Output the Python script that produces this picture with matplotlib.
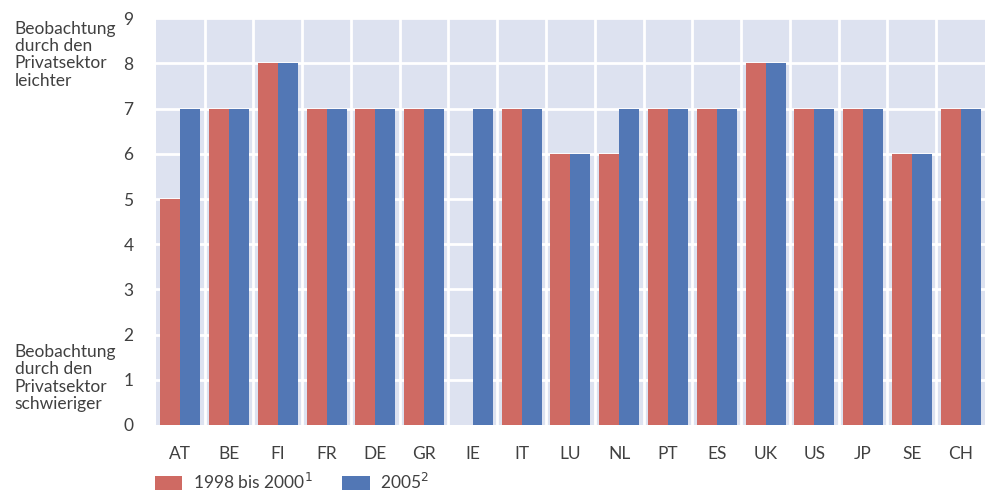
import numpy as np
import matplotlib.pyplot as plt

plt.rcParams['font.family'] = ['Lato', 'DejaVu Sans']

countries = ['AT', 'BE', 'FI', 'FR', 'DE', 'GR', 'IE', 'IT', 'LU', 'NL',
             'PT', 'ES', 'UK', 'US', 'JP', 'SE', 'CH']
v_1998_2000 = [5, 7, 8, 7, 7, 7, 0, 7, 6, 6, 7, 7, 8, 7, 7, 6, 7]
v_2005 = [7, 7, 8, 7, 7, 7, 7, 7, 6, 7, 7, 7, 8, 7, 7, 6, 7]
yticks = list(range(0, 10))

red = '#cf6a63'
blue = '#5277b5'
txt = '#404040'

fig = plt.figure(figsize=(9.86, 4.93), dpi=100)
ax = fig.add_axes([0.158, 0.138, 0.841, 0.825])
ax.set_facecolor('#dde2f0')

x = np.arange(len(countries))
w = 0.41
ax.bar(x - w / 2, v_1998_2000, w, color=red, zorder=3, label='1998 bis 2000$^1$')
ax.bar(x + w / 2, v_2005, w, color=blue, zorder=3, label='2005$^2$')

ax.set_xlim(-0.5, len(countries) - 0.5)
ax.set_ylim(0, 9)
for b in np.arange(0.5, len(countries) - 0.5):
    ax.axvline(b, color='white', lw=2, zorder=1)
for t in yticks[1:]:
    ax.axhline(t, color='white', lw=2, zorder=1)

ax.set_xticks(x)
ax.set_xticklabels(countries)
ax.set_yticks(yticks)
ax.tick_params(axis='x', length=0, pad=15, labelsize=12.5, labelcolor=txt)
ax.tick_params(axis='y', length=0, pad=16, labelsize=12.5, labelcolor=txt)
for s in ax.spines.values():
    s.set_visible(False)

fig.text(0.015, 0.958, 'Beobachtung\ndurch den\nPrivatsektor\nleichter', ha='left', va='top',
         fontsize=12.5, color=txt, linespacing=1.1)
fig.text(0.015, 0.302, 'Beobachtung\ndurch den\nPrivatsektor\nschwieriger', ha='left', va='top',
         fontsize=12.5, color=txt, linespacing=1.1)

fig.legend(loc='center left', bbox_to_anchor=(0.148, 0.022), ncol=2, frameon=False,
           fontsize=12.5, labelcolor=txt, handlelength=1.6, handleheight=0.9,
           columnspacing=1.7, handletextpad=0.6, borderpad=0.0)

fig.savefig('out.png', dpi=100)
